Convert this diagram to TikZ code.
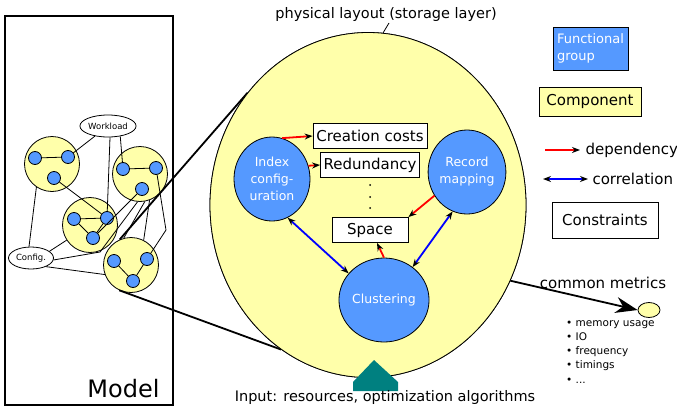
\documentclass[tikz,border=0pt]{standalone}
\usepackage{fontspec}
\setmainfont{DejaVu Sans}
\usetikzlibrary{arrows.meta,shapes.geometric}

\definecolor{compyellow}{HTML}{FFFFAA}
\definecolor{groupblue}{HTML}{5599FF}
\definecolor{inputteal}{HTML}{008080}

\tikzset{
  component/.style={circle, draw, line width=0.8pt, fill=compyellow, minimum size=55pt, inner sep=0pt},
  fdot/.style={circle, draw, line width=0.8pt, fill=groupblue, minimum size=13pt, inner sep=0pt},
  fgroup/.style={ellipse, draw, line width=0.8pt, fill=groupblue, minimum width=76pt, minimum height=84pt,
    inner sep=0pt, text=white, align=center, font=\fontsize{12.5}{17}\selectfont},
  constraint/.style={draw, line width=0.8pt, fill=white, inner sep=0pt, minimum height=25pt,
    font=\fontsize{15}{18}\selectfont},
  input/.style={ellipse, draw, line width=0.8pt, fill=white, inner sep=0pt, minimum width=45pt,
    minimum height=22pt, font=\fontsize{8.5}{10}\selectfont},
  link/.style={line width=0.8pt},
  callout/.style={line width=1.8pt},
  depend/.style={red, line width=1.8pt, -{Stealth[black, length=8pt, width=6pt]}},
  correl/.style={blue, line width=1.8pt, {Stealth[black, length=8pt, width=6pt]}-{Stealth[black, length=8pt, width=6pt]}},
  label/.style={font=\fontsize{15}{18}\selectfont},
}

\begin{document}
\begin{tikzpicture}[x=1pt, y=-1pt]
  \useasboundingbox (0,0) rectangle (677,410);

  % model of the whole system
  \draw[line width=1.8pt] (5,16) rectangle (173,405);
  \node[anchor=south east, font=\fontsize{24}{28}\selectfont] (modeltitle) at (163,401) {Model};

  \node[input] (workload) at (108,126) {Workload};
  \node[input] (config)   at (31,258)  {Config.};

  \node[component] (compA) at (52,164) {};
  \node[component] (compB) at (140,174) {};
  \node[component] (compC) at (90,225) {};
  \node[component] (compD) at (131,265) {};

  \node[fdot] (a1) at (35,158) {};
  \node[fdot] (a2) at (68,157) {};
  \node[fdot] (a3) at (54,178) {};
  \node[fdot] (b1) at (123,169) {};
  \node[fdot] (b2) at (156,168) {};
  \node[fdot] (b3) at (142,189) {};
  \node[fdot] (c1) at (74,219) {};
  \node[fdot] (c2) at (107,218) {};
  \node[fdot] (c3) at (93,238) {};
  \node[fdot] (d1) at (114,261) {};
  \node[fdot] (d2) at (147,259) {};
  \node[fdot] (d3) at (133,281) {};

  \coordinate (bendA) at (100,252);
  \coordinate (bendB) at (166,230);

  % links between the parts of the model
  \draw[link] (a1) -- (a2);
  \draw[link] (b1) -- (b2);
  \draw[link] (c1) -- (c2) -- (c3) -- (c1);
  \draw[link] (d1) -- (d3) -- (d2);
  \draw[link] (workload) -- (a2);
  \draw[link] (workload.-80) -- (c2);
  \draw[link] (workload.-40) -- (b1);
  \draw[link] (a3) -- (c2);
  \draw[link] (b3) -- (c3);
  \draw[link] (compA.236) -- (config.100);
  \draw[link] (config.20) -- (compC.213);
  \draw[link] (config.-5) -- (bendA) -- (compB.265);
  \draw[link] (compB.280) -- (compD.105);
  \draw[link] (compB.290) -- (compD.63);
  \draw[link] (b2) -- (bendB) -- (d2);
  \draw[link] (config.-30) -- (compD.200);

  % storage layer, zoomed out of one component
  \node[ellipse, draw, line width=0.8pt, minimum width=316pt, minimum height=345pt] (layout) at (368,205) {};
  \draw[callout] (compD.114) -- (layout.137.8);
  \draw[callout] (compD.245) -- (layout.239.3);
  \node[ellipse, draw, line width=0.8pt, fill=compyellow, minimum width=316pt, minimum height=345pt] at (368,205) {};

  \node[font=\fontsize{14.5}{17}\selectfont] (title) at (386,14) {physical layout (storage layer)};
  \coordinate (tick) at (389,23);
  \draw[link] (tick) -- (layout.85);

  \node[fgroup] (idx)    at (272,179) {Index\\config-\\uration};
  \node[fgroup] (recmap) at (467,172) {Record\\mapping};
  \node[fgroup] (clust)  at (384,300) {Clustering};

  \node[constraint, minimum width=114pt] (ccost)  at (370,136) {Creation costs};
  \node[constraint, minimum width=99pt]  (redund) at (370,165) {Redundancy};
  \node[constraint, minimum width=76pt]  (space)  at (370,230) {Space};
  \foreach \y in {185,197,208}
    \fill (370,\y) circle (1pt);

  \draw[depend] (idx.76) -- (ccost.west);
  \draw[depend] (idx.20) -- (redund.west);
  \draw[depend] (recmap.216) -- (space.north east);
  \draw[depend] (clust.north) -- ([xshift=7pt]space.south);
  \draw[correl] (idx.-68) -- (clust.143);
  \draw[correl] (recmap.250) -- (clust.49);

  % legend
  \node[draw, line width=0.8pt, fill=groupblue, text=white, align=left, minimum width=75pt, minimum height=43pt,
    inner sep=2pt, font=\fontsize{13}{17}\selectfont] (lgroup) at (590.5,48.5) {Functional\\group};
  \node[draw, line width=0.8pt, fill=compyellow, minimum width=102pt, minimum height=29pt,
    inner sep=0pt, label] (lcomp) at (590,101.5) {Component};
  \coordinate (depA) at (545,150);
  \coordinate (depB) at (580,150);
  \draw[depend] (depA) -- (depB);
  \node[label, anchor=west] (ldep) at (582,150) {dependency};
  \coordinate (corA) at (543,179);
  \coordinate (corB) at (588,179);
  \draw[correl] (corA) -- (corB);
  \node[label, anchor=west] (lcor) at (589,179) {correlation};
  \node[draw, line width=0.8pt, minimum width=106pt, minimum height=36pt, inner sep=0pt, label]
    (lcons) at (605,220) {Constraints};

  % common metrics
  \node[label] (metrictitle) at (603,283) {common metrics};
  \node[ellipse, draw, line width=0.8pt, fill=compyellow, minimum width=22pt, minimum height=15pt,
    inner sep=0pt] (metric) at (649,310) {};
  \draw[callout, -{Stealth[length=22pt, width=16pt]}] (layout.-28.5) -- (metric.west);
  \node[anchor=north west, align=left, inner sep=0pt, font=\fontsize{10.5}{14.3}\selectfont] (metriclist) at (566,320)
    {\textbullet\ memory usage\\ \textbullet\ IO\\ \textbullet\ frequency\\ \textbullet\ timings\\ \textbullet\ ...};

  % input arrow
  \fill[inputteal] (353,391) -- (353,382) -- (374,360) -- (398,382) -- (398,391) -- cycle;
  \node[font=\fontsize{14.5}{17}\selectfont] (inputs) at (385,397) {Input: resources, optimization algorithms};
\end{tikzpicture}
\end{document}
